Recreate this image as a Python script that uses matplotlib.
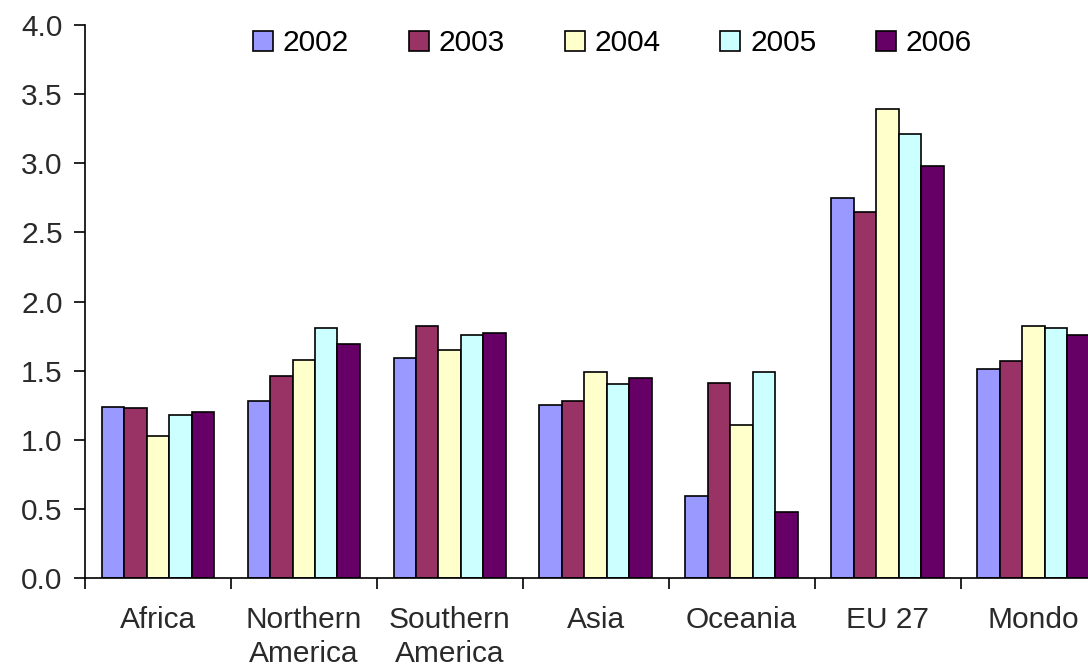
import numpy as np
import matplotlib.pyplot as plt

plt.rcParams['font.family'] = ['Liberation Sans', 'DejaVu Sans']

regions = ['Africa', 'Northern\nAmerica', 'Southern\nAmerica', 'Asia', 'Oceania', 'EU 27', 'Mondo']
years = ['2002', '2003', '2004', '2005', '2006']
v2002 = [1.24, 1.28, 1.59, 1.25, 0.59, 2.75, 1.51]
v2003 = [1.23, 1.46, 1.82, 1.28, 1.41, 2.65, 1.57]
v2004 = [1.03, 1.58, 1.65, 1.49, 1.11, 3.39, 1.82]
v2005 = [1.18, 1.81, 1.76, 1.40, 1.49, 3.21, 1.81]
v2006 = [1.20, 1.69, 1.77, 1.45, 0.48, 2.98, 1.76]
colors = ['#9999FF', '#993366', '#FFFFCC', '#CCFFFF', '#660066']

series = [v2002, v2003, v2004, v2005, v2006]
fs = 21.5

fig = plt.figure(figsize=(10.88, 6.67), dpi=100)
ax = fig.add_axes([0.078, 0.1334, 0.939, 0.829])

x = np.arange(len(regions))
w = 0.154
for i, (vals, yr, c) in enumerate(zip(series, years, colors)):
    ax.bar(x + (i - 2) * w, vals, w, color=c, edgecolor='black', linewidth=1.2, label=yr)

ax.set_xlim(-0.5, len(regions) - 0.5)
ax.set_ylim(0, 4.0)
ax.set_yticks(np.arange(0, 4.01, 0.5))
ax.set_yticklabels(['%.1f' % t for t in np.arange(0, 4.01, 0.5)], fontsize=fs, color='#2a2a2a')

# ticks sit between the groups, labels in the middle
ax.set_xticks(np.arange(-0.5, len(regions), 1.0))
ax.set_xticklabels([])
ax.set_xticks(x, minor=True)
ax.set_xticklabels(regions, minor=True, fontsize=fs, color='#2a2a2a', linespacing=1.3)
ax.tick_params(axis='x', which='minor', length=0, pad=20)
ax.tick_params(axis='both', which='major', length=8, width=1.2, direction='out')
ax.tick_params(axis='y', pad=8)

for s in ['top', 'right']:
    ax.spines[s].set_visible(False)
for s in ['left', 'bottom']:
    ax.spines[s].set_linewidth(1.2)

fig.legend(loc='center', bbox_to_anchor=(0.563, 0.935), ncol=5, frameon=False, fontsize=fs,
           handlelength=0.67, handleheight=0.67, handletextpad=0.33, columnspacing=2.0)

plt.savefig('out.png')
